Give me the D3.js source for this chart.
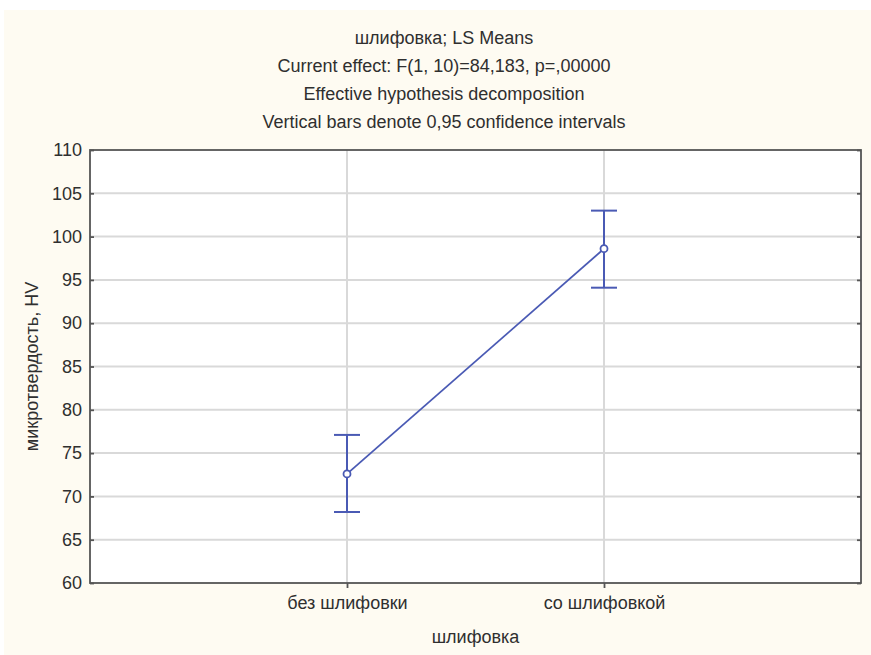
<!DOCTYPE html>
<html><head><meta charset="utf-8">
<script src="https://cdn.jsdelivr.net/npm/d3@7/dist/d3.min.js"></script>
<style>
html,body{margin:0;padding:0;background:#fff;}
svg{display:block;}
text{font-family:"Liberation Sans",Arial,sans-serif;fill:#2f2f2f;}
</style></head>
<body>
<svg id="chart" width="871" height="655"></svg>
<script>
const titleLines = ["шлифовка; LS Means","Current effect: F(1, 10)=84,183, p=,00000","Effective hypothesis decomposition","Vertical bars denote 0,95 confidence intervals"];
const categories = ["без шлифовки","со шлифовкой"];
const means = [72.6, 98.6];
const ciLow = [68.2, 94.1];
const ciHigh = [77.1, 103.0];
const yTicks = [60,65,70,75,80,85,90,95,100,105,110];
const xTitle = "шлифовка";
const yTitle = "микротвердость, HV";

const svg = d3.select("#chart");
const W = 871, H = 655;
const m = {left:90, right:861, top:150, bottom:583};
const lineColor = "#4a5ab4";
const fs = "18px";

svg.append("rect").attr("x",4).attr("y",10).attr("width",W-4).attr("height",H-10).attr("fill","#fefbf2");
svg.append("rect").attr("x",m.left).attr("y",m.top).attr("width",m.right-m.left).attr("height",m.bottom-m.top).attr("fill","#fff");

const x = d3.scalePoint().domain(categories).range([m.left,m.right]).padding(1);
const y = d3.scaleLinear().domain([60,110]).range([m.bottom,m.top]);

// grid
svg.append("g").selectAll("line").data(yTicks.filter(v=>v>60&&v<110)).join("line")
  .attr("x1",m.left).attr("x2",m.right).attr("y1",d=>y(d)).attr("y2",d=>y(d))
  .attr("stroke","#d9d9d9").attr("stroke-width",2);
svg.append("g").selectAll("line").data(categories).join("line")
  .attr("x1",d=>x(d)).attr("x2",d=>x(d)).attr("y1",m.top).attr("y2",m.bottom)
  .attr("stroke","#d9d9d9").attr("stroke-width",2);

// border
svg.append("rect").attr("x",m.left).attr("y",m.top).attr("width",m.right-m.left).attr("height",m.bottom-m.top)
  .attr("fill","none").attr("stroke","#555").attr("stroke-width",1.8);

// y axis
const yAxis = svg.append("g").attr("transform",`translate(${m.left},0)`)
  .call(d3.axisLeft(y).tickValues(yTicks).tickSize(-4).tickPadding(8).tickFormat(d3.format("d")));
yAxis.select(".domain").remove();
yAxis.selectAll("line").attr("stroke","#555").attr("stroke-width",1.8);
yAxis.selectAll("text").style("font-size",fs).attr("fill","#2f2f2f");
const yAxisR = svg.append("g").attr("transform",`translate(${m.right},0)`)
  .call(d3.axisRight(y).tickValues(yTicks).tickSize(-4).tickFormat(""));
yAxisR.select(".domain").remove();
yAxisR.selectAll("line").attr("stroke","#555").attr("stroke-width",1.8);

// x axis
const xAxis = svg.append("g").attr("transform",`translate(0,${m.bottom})`)
  .call(d3.axisBottom(x).tickSize(5).tickPadding(8));
xAxis.select(".domain").remove();
xAxis.selectAll("line").attr("stroke","#555").attr("stroke-width",1.8);
xAxis.selectAll("text").style("font-size",fs).attr("fill","#2f2f2f");

// titles
svg.append("g").selectAll("text").data(titleLines).join("text")
  .attr("x",444).attr("y",(d,i)=>44+i*28).attr("text-anchor","middle")
  .style("font-size",fs).text(d=>d);
svg.append("text").attr("x",(m.left+m.right)/2).attr("y",643).attr("text-anchor","middle")
  .style("font-size",fs).text(xTitle);
svg.append("text").attr("transform",`translate(38,${(m.top+m.bottom)/2}) rotate(-90)`).attr("text-anchor","middle")
  .style("font-size",fs).text(yTitle);

// data
const data = categories.map((c,i)=>({c,m:means[i],lo:ciLow[i],hi:ciHigh[i]}));
svg.append("path").datum(data)
  .attr("d",d3.line().x(d=>x(d.c)).y(d=>y(d.m)))
  .attr("fill","none").attr("stroke",lineColor).attr("stroke-width",1.8);
const eb = svg.append("g").selectAll("g").data(data).join("g");
eb.append("line").attr("x1",d=>x(d.c)).attr("x2",d=>x(d.c)).attr("y1",d=>y(d.lo)).attr("y2",d=>y(d.hi))
  .attr("stroke",lineColor).attr("stroke-width",2);
eb.append("line").attr("x1",d=>x(d.c)-13).attr("x2",d=>x(d.c)+13).attr("y1",d=>y(d.lo)).attr("y2",d=>y(d.lo))
  .attr("stroke",lineColor).attr("stroke-width",2);
eb.append("line").attr("x1",d=>x(d.c)-13).attr("x2",d=>x(d.c)+13).attr("y1",d=>y(d.hi)).attr("y2",d=>y(d.hi))
  .attr("stroke",lineColor).attr("stroke-width",2);
eb.append("circle").attr("cx",d=>x(d.c)).attr("cy",d=>y(d.m)).attr("r",3.5)
  .attr("fill","#fff").attr("stroke",lineColor).attr("stroke-width",1.8);
</script>
</body></html>
